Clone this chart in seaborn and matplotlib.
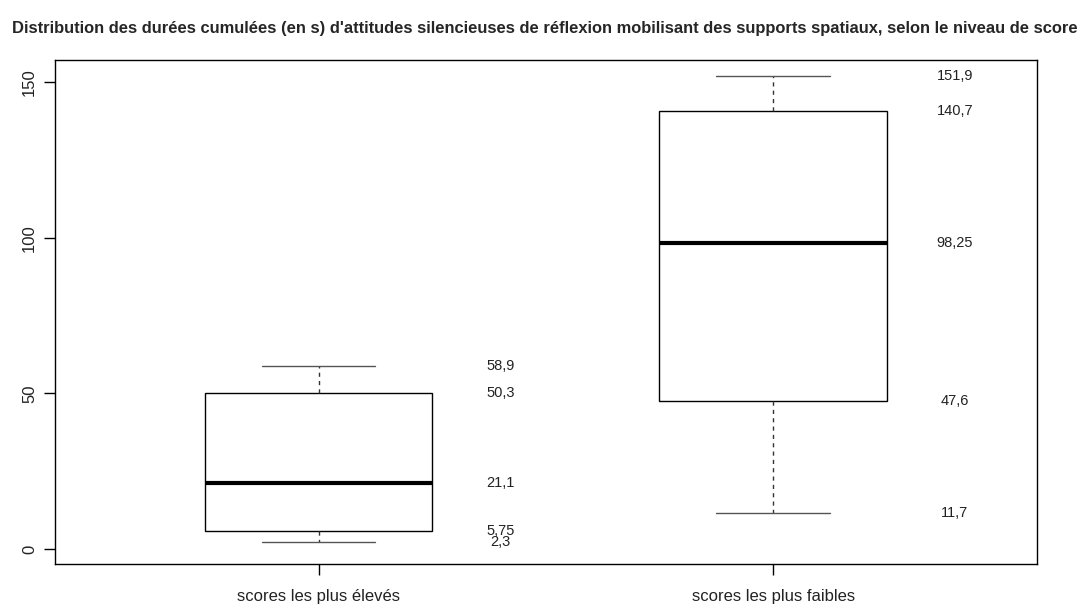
import matplotlib
matplotlib.use("Agg")
import matplotlib.pyplot as plt
import seaborn as sns
import pandas as pd

# five-number summaries (min, Q1, median, Q3, max)
groups = ["scores les plus élevés", "scores les plus faibles"]
high_scores = [2.3, 5.75, 21.1, 50.3, 58.9]
low_scores = [11.7, 47.6, 98.25, 140.7, 151.9]
high_labels = ["2,3", "5,75", "21,1", "50,3", "58,9"]
low_labels = ["11,7", "47,6", "98,25", "140,7", "151,9"]
y_ticks = [0, 50, 100, 150]

df = pd.DataFrame({
    "groupe": [groups[0]] * len(high_scores) + [groups[1]] * len(low_scores),
    "duree": high_scores + low_scores,
})

sns.set_theme(style="white")
plt.rcParams["font.family"] = ["Liberation Sans", "DejaVu Sans"]

fig = plt.figure(figsize=(10.89, 6.08), dpi=100)
ax = fig.add_axes([0.0505, 0.0724, 0.9015, 0.8286])

sns.boxplot(data=df, x="groupe", y="duree", order=groups, ax=ax,
            width=0.5, color="white", linecolor="black", linewidth=1,
            whis=1.5, showfliers=False,
            medianprops=dict(linewidth=3, color="black"),
            whiskerprops=dict(linestyle=(0, (3, 3)), color="#333333"),
            capprops=dict(color="#555555"))

for i, (vals, labs) in enumerate([(high_scores, high_labels), (low_scores, low_labels)]):
    for v, lab in zip(vals, labs):
        ax.text(i + 0.4, v, lab, ha="center", va="center", fontsize=10.5, color="#222222")

ax.set_xlim(-0.58, 1.58)
ax.set_ylim(-4.8, 157.1)
ax.set_yticks(y_ticks)
ax.set_xlabel("")
ax.set_ylabel("")
ax.tick_params(axis="both", direction="out", length=8, width=1, color="black",
               labelsize=12, labelcolor="#222222", left=True, bottom=True)
ax.tick_params(axis="y", pad=5)
ax.tick_params(axis="x", pad=10)
for lbl in ax.get_yticklabels():
    lbl.set_rotation(90)
    lbl.set_va("center")
    lbl.set_ha("right")
for sp in ax.spines.values():
    sp.set_visible(True)
    sp.set_color("black")
    sp.set_linewidth(1)

fig.text(0.5, 1 - 28 / 608,
         "Distribution des durées cumulées (en s) d'attitudes silencieuses de réflexion "
         "mobilisant des supports spatiaux, selon le niveau de score",
         ha="center", va="center", fontsize=11.9, fontweight="bold")

fig.savefig("out.png", dpi=100, facecolor="white")
